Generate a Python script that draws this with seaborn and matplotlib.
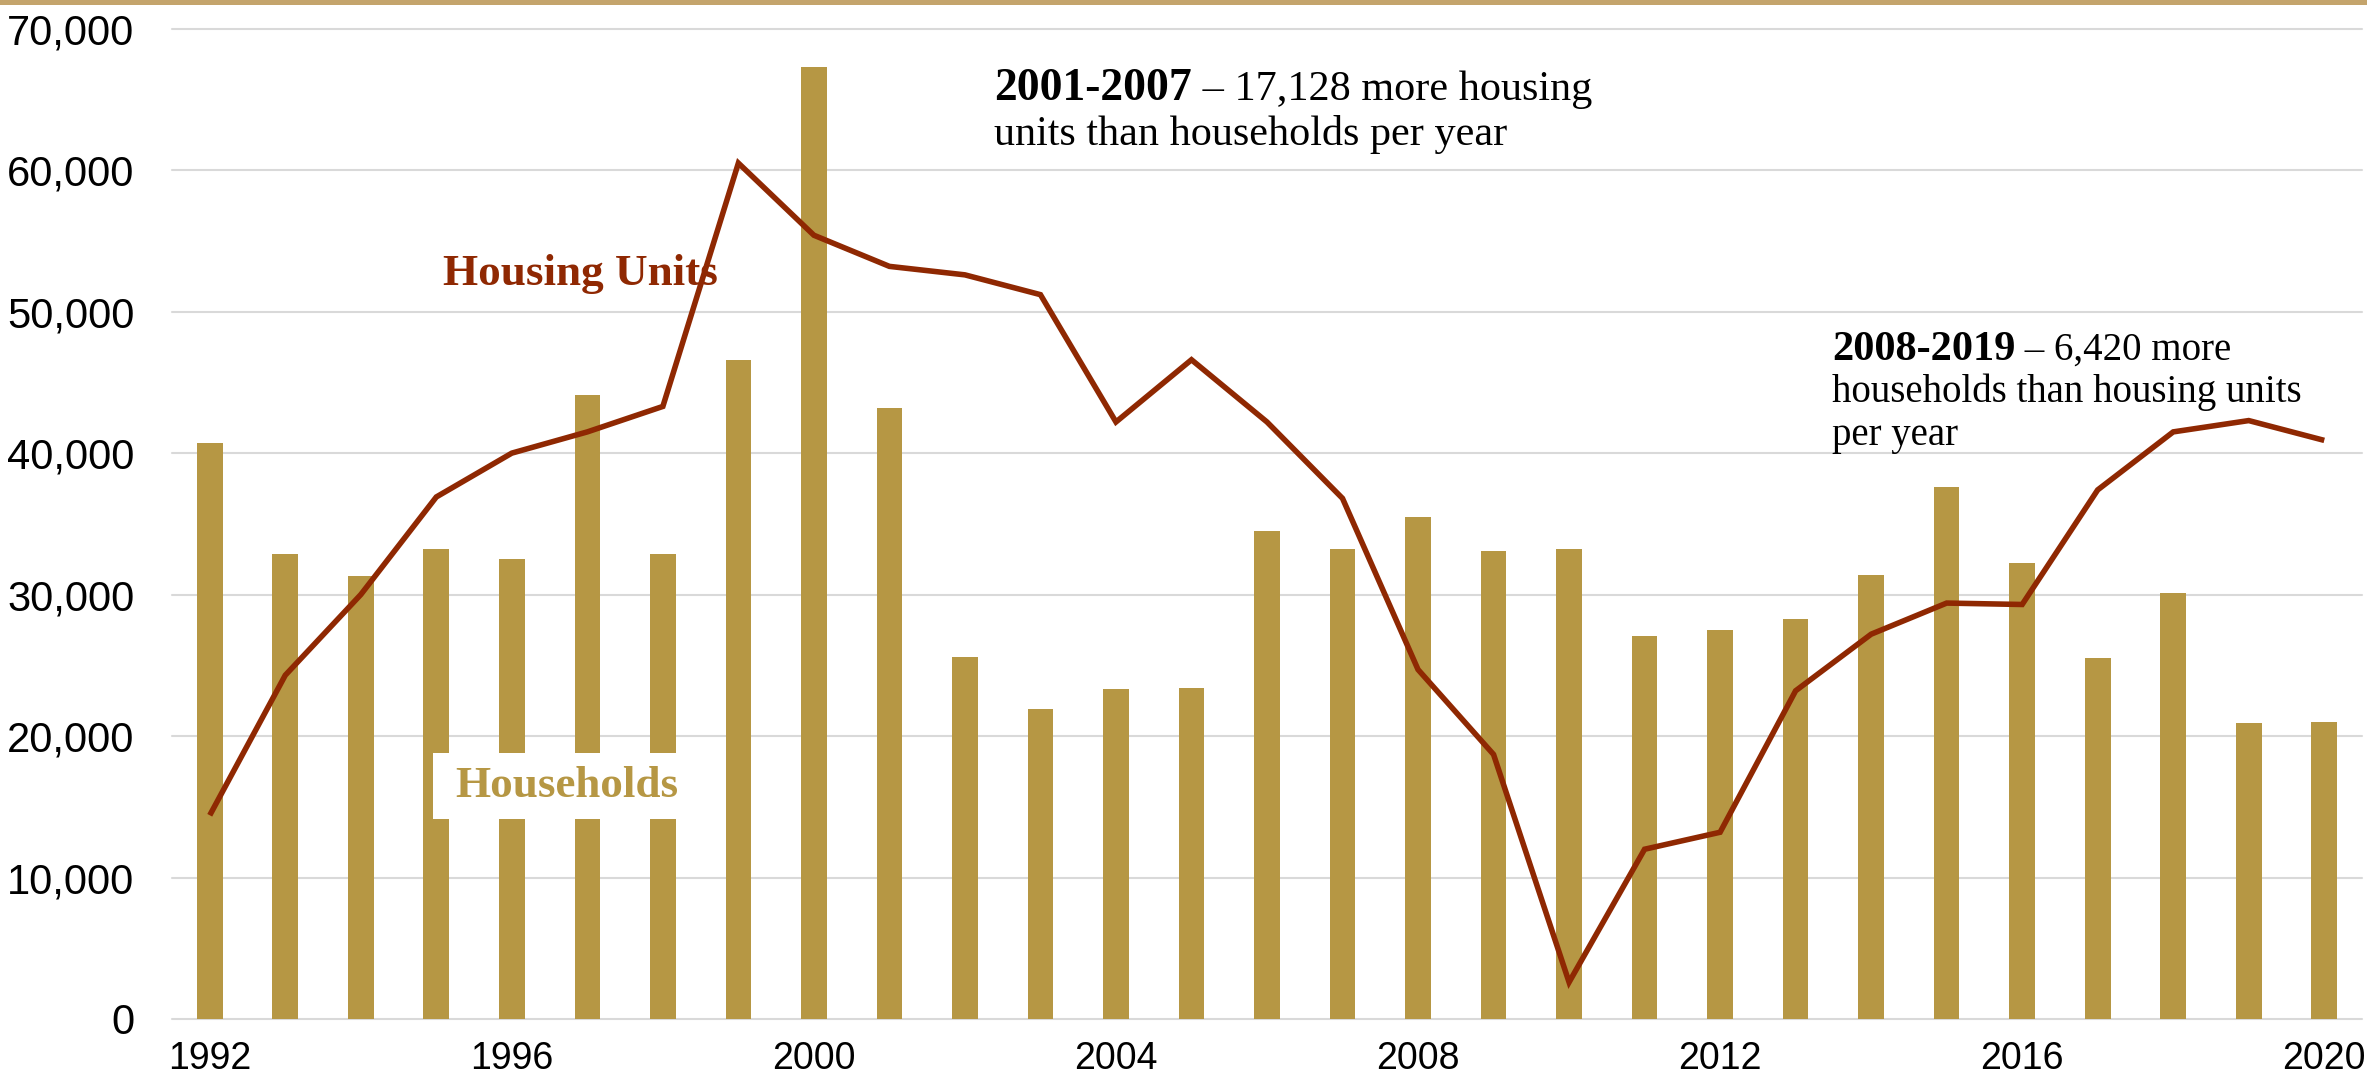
import matplotlib
matplotlib.use("Agg")
import matplotlib.pyplot as plt
import seaborn as sns
import numpy as np
import pandas as pd
from matplotlib.patches import Rectangle
from matplotlib.ticker import FuncFormatter, FixedLocator

# Annual change in households and housing units
years = list(range(1992, 2021))
households = [40700, 32900, 31300, 33200, 32500, 44100, 32900, 46600, 67300, 43200,
              25600, 21900, 23300, 23400, 34500, 33200, 35500, 33100, 33200, 27100,
              27500, 28300, 31400, 37600, 32200, 25500, 30100, 20900, 21000]
housing_units = [14400, 24300, 30000, 36900, 40000, 41500, 43300, 60500, 55400, 53200,
                 52600, 51200, 42200, 46600, 42200, 36800, 24700, 18700, 2600, 12000,
                 13200, 23200, 27200, 29400, 29300, 37400, 41500, 42300, 40900]
tick_years = [1992, 1996, 2000, 2004, 2008, 2012, 2016, 2020]

GOLD = "#B69744"
RUST = "#8F2802"
GRID = "#D9D9D9"

sns.set_style("white")
plt.rcParams["font.family"] = ["Liberation Sans", "DejaVu Sans"]

W, H = 2367, 1081
fig = plt.figure(figsize=(W / 100, H / 100), dpi=100)
left, right, top, bottom = 172, 2362, 28.7, 1019
ax = fig.add_axes([left / W, 1 - bottom / H, (right - left) / W, (bottom - top) / H])

df = pd.DataFrame({"year": [str(y) for y in years],
                   "households": households,
                   "housing_units": housing_units})
df["pos"] = np.arange(len(df))

sns.barplot(data=df, x="year", y="households", color=GOLD, saturation=1,
            width=0.34, linewidth=0, ax=ax, zorder=2)
sns.lineplot(data=df, x="pos", y="housing_units", color=RUST, ax=ax, zorder=5)
for ln in ax.lines:
    ln.set_linewidth(4)
    ln.set_solid_joinstyle("miter")
    ln.set_solid_capstyle("butt")

ax.set_xlim(-0.5, len(years) - 0.5)
ax.set_ylim(0, 70000)
ax.set_xlabel("")
ax.set_ylabel("")
for s in ax.spines.values():
    s.set_visible(False)

ax.yaxis.set_major_locator(FixedLocator(np.arange(0, 70001, 10000)))
ax.yaxis.set_major_formatter(FuncFormatter(lambda v, p: f"{int(v):,}"))
ax.yaxis.grid(True, color=GRID, linewidth=1.5)
ax.set_axisbelow(True)
for gl in ax.get_ygridlines():
    gl.set_clip_on(False)

ax.set_xticks([years.index(y) for y in tick_years])
ax.set_xticklabels([str(y) for y in tick_years])
ax.tick_params(axis="y", length=0, pad=27, labelsize=30, labelcolor="black")
ax.tick_params(axis="x", length=0, pad=16, labelsize=27, labelcolor="black")

# thin gold rule along the top edge
fig.add_artist(Rectangle((0, 1 - 5 / H), 1, 5 / H, transform=fig.transFigure,
                         facecolor="#C4A46C", edgecolor="none"))


def fxy(px, py):
    return px / W, 1 - py / H


SERIF = ["Liberation Serif", "DejaVu Serif"]

# series labels
fig.text(*fxy(443, 285), "Housing Units", color=RUST, fontsize=32.5,
         fontweight="bold", family=SERIF, va="baseline", ha="left", zorder=3)

bx0, by0 = ax.transAxes.inverted().transform((433, H - 819))
bx1, by1 = ax.transAxes.inverted().transform((700, H - 753))
ax.add_patch(Rectangle((bx0, by0), bx1 - bx0, by1 - by0, transform=ax.transAxes,
                       facecolor="white", edgecolor="none", zorder=3))
fig.text(*fxy(455, 797), "Households", color=GOLD, fontsize=32.5,
         fontweight="bold", family=SERIF, va="baseline", ha="left", zorder=4)

# period notes: bold range followed by regular text
fig.canvas.draw()
renderer = fig.canvas.get_renderer()


def note(px, py, bold, rest, size):
    t = fig.text(*fxy(px, py), bold, fontsize=size + 2.5, fontweight="bold",
                 family=SERIF, va="baseline", ha="left", color="black")
    bb = t.get_window_extent(renderer)
    fig.text(bb.x1 / W, 1 - py / H, rest, fontsize=size, family=SERIF,
             va="baseline", ha="left", color="black")


def plain(px, py, s, size):
    fig.text(*fxy(px, py), s, fontsize=size, family=SERIF,
             va="baseline", ha="left", color="black")


note(994, 100, "2001-2007", " \u2013 17,128 more housing", 30.4)
plain(994, 145, "units than households per year", 30.4)

note(1832, 360, "2008-2019", " \u2013 6,420 more", 28)
plain(1832, 402, "households than housing units", 28)
plain(1832, 445, "per year", 28)

fig.savefig("out.png", dpi=100)
